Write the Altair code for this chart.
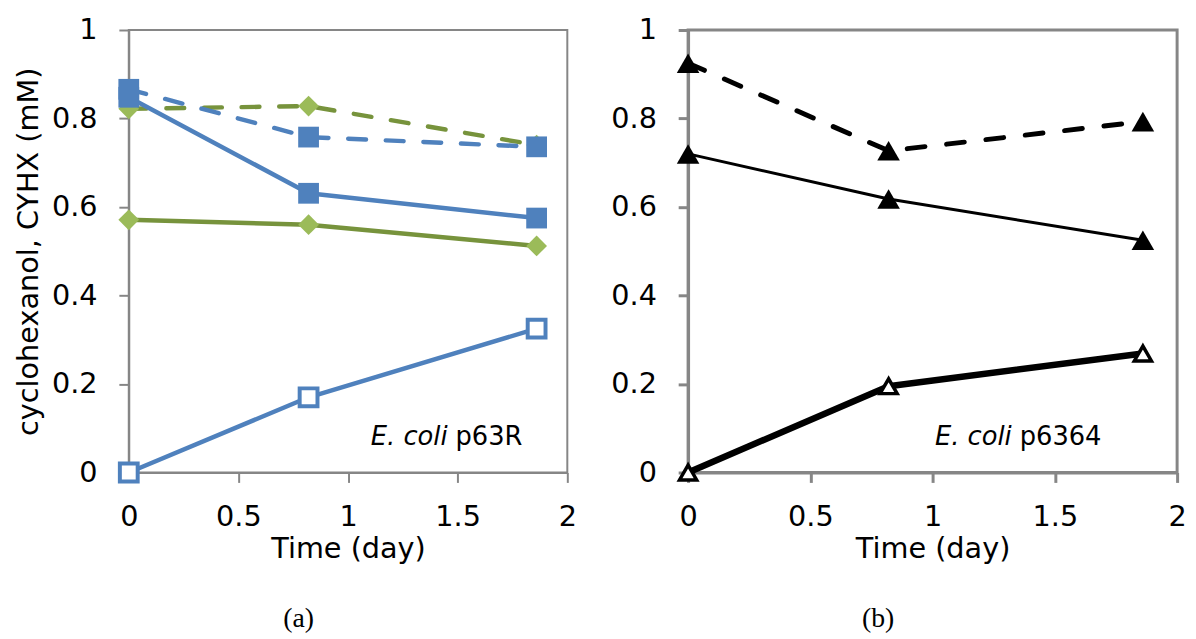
import altair as alt
import pandas as pd

# ---------------- data ----------------
time_days = [0.0, 0.82, 1.86]

# panel (a)  E. coli p63R
a_cyhx_ctrl = [0.866, 0.758, 0.736]    # blue dashed, filled squares
a_cyhol_ctrl = [0.822, 0.828, 0.740]   # green dashed, diamonds
a_cyhx = [0.848, 0.631, 0.575]         # blue solid, filled squares
a_cyhol = [0.571, 0.560, 0.512]        # green solid, diamonds
a_product = [0.0, 0.170, 0.325]        # blue solid, open squares

# panel (b)  E. coli p6364
b_ctrl = [0.925, 0.727, 0.793]         # black dashed, filled triangles
b_cyhx = [0.720, 0.618, 0.525]         # black solid, filled triangles
b_product = [0.0, 0.195, 0.269]        # black thick, open triangles

x_ticks = [0, 0.5, 1, 1.5, 2]
y_ticks = [0, 0.2, 0.4, 0.6, 0.8, 1]

y_title = "cyclohexanol, CYHX (mM)"
x_title = "Time (day)"

BLUE = "#4F81BD"
GREEN_M = "#9BBB59"
GREEN_L = "#77933C"
GRAY = "#868686"

series_a = [
    dict(v=a_cyhol_ctrl, lc=GREEN_L, lw=4.5, dash=[18, 20], shape="diamond", size=440, fill=GREEN_M, stroke=GREEN_M, sw=0),
    dict(v=a_cyhol, lc=GREEN_L, lw=4.5, dash=None, shape="diamond", size=440, fill=GREEN_M, stroke=GREEN_M, sw=0),
    dict(v=a_cyhx_ctrl, lc=BLUE, lw=4.5, dash=[18, 20], shape="square", size=440, fill=BLUE, stroke=BLUE, sw=0),
    dict(v=a_cyhx, lc=BLUE, lw=4.5, dash=None, shape="square", size=440, fill=BLUE, stroke=BLUE, sw=0),
    dict(v=a_product, lc=BLUE, lw=4.5, dash=None, shape="square", size=324, fill="white", stroke=BLUE, sw=4),
]
series_b = [
    dict(v=b_ctrl, lc="black", lw=5, dash=[18, 22], shape="triangle-up", size=520, fill="black", stroke="black", sw=0),
    dict(v=b_cyhx, lc="black", lw=3, dash=None, shape="triangle-up", size=520, fill="black", stroke="black", sw=0),
    dict(v=b_product, lc="black", lw=6.5, dash=None, shape="triangle-up", size=300, fill="white", stroke="black", sw=3.5),
]


def panel(series, width, axis_w, frame_w, ytitle, caption, cap_dx, ann_x, ann_strain):
    xenc = alt.X("time:Q", scale=alt.Scale(domain=[0, 2], nice=False, zero=False),
                 axis=alt.Axis(values=x_ticks, format="~g", title=x_title,
                               domainWidth=axis_w, tickWidth=axis_w, titlePadding=3,
                               labelPadding=21, labelFlush=False))
    yenc = alt.Y("value:Q", scale=alt.Scale(domain=[0, 1], nice=False),
                 axis=alt.Axis(values=y_ticks, format="~g", title=ytitle,
                               domainWidth=axis_w, tickWidth=axis_w, titlePadding=8,
                               labelPadding=22, labelFlush=False))
    layers = []
    for s in series:
        df = pd.DataFrame({"time": time_days, "value": s["v"]})
        base = alt.Chart(df).encode(x=xenc, y=yenc)
        lk = dict(color=s["lc"], strokeWidth=s["lw"], strokeCap="round", strokeJoin="round")
        if s["dash"]:
            lk["strokeDash"] = s["dash"]
        layers.append(base.mark_line(**lk))
        pk = dict(shape=s["shape"], size=s["size"], filled=True, fill=s["fill"], opacity=1,
                  fillOpacity=1)
        if s["sw"] > 0:
            pk["stroke"] = s["stroke"]
            pk["strokeWidth"] = s["sw"]
        else:
            pk["strokeWidth"] = 0
        layers.append(base.mark_point(**pk))
    ann = pd.DataFrame({"time": [ann_x], "value": [0.063], "it": ["E. coli"], "st": [ann_strain]})
    tb = alt.Chart(ann).encode(x="time:Q", y="value:Q")
    layers.append(tb.mark_text(align="right", baseline="alphabetic", dx=-4, font="DejaVu Sans",
                               fontStyle="italic", fontSize=26, color="black").encode(text="it:N"))
    layers.append(tb.mark_text(align="left", baseline="alphabetic", dx=4, font="DejaVu Sans",
                               fontSize=26, color="black").encode(text="st:N"))
    return alt.layer(*layers).properties(
        width=width, height=447,
        view=alt.ViewBackground(stroke=GRAY, strokeWidth=frame_w),
        title=alt.TitleParams(caption, orient="bottom", anchor="middle", frame="group",
                              dx=cap_dx, offset=42, font="Liberation Serif", fontSize=28,
                              fontWeight="normal", color="black"),
    )


left = panel(series_a, 443, 2, 2, y_title, "(a)", -50, 1.472, "p63R")
right = panel(series_b, 494, 3, 3, None, "(b)", -55, 1.340, "p6364")

chart = alt.hconcat(left, right, spacing=31).properties(
    padding={"top": 3, "left": 5, "right": 0, "bottom": 5}
).configure_axis(
    grid=False, domainColor=GRAY, tickColor=GRAY, tickSize=10,
    labelFont="DejaVu Sans", labelFontSize=29, labelColor="black",
    titleFont="DejaVu Sans", titleFontSize=29, titleFontWeight="normal", titleColor="black",
).configure_view(stroke=None)

chart.save("out.html", embed_options={"renderer": "svg", "actions": False})
